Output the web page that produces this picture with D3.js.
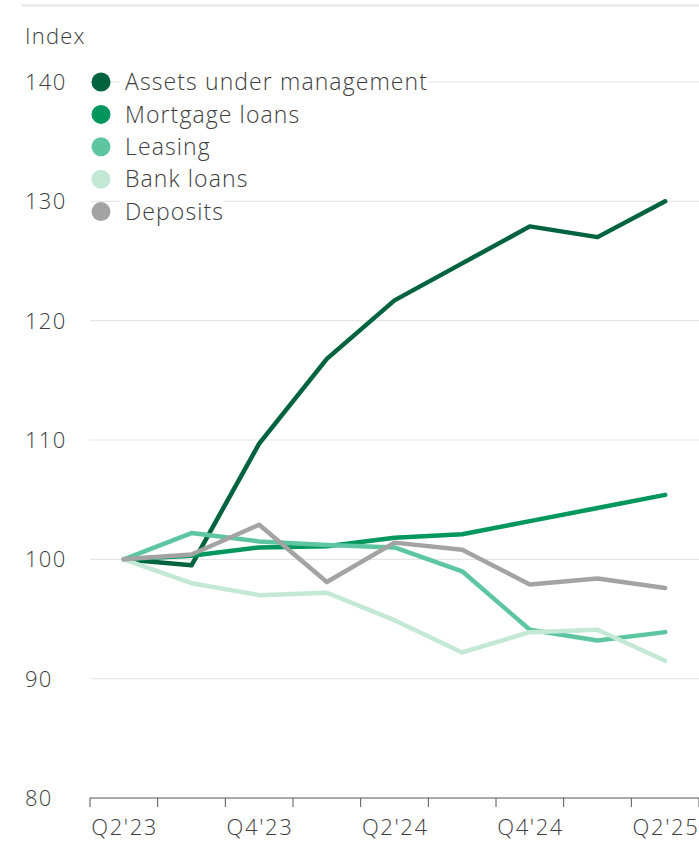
<!DOCTYPE html>
<html>
<head>
<meta charset="utf-8">
<script src="https://cdn.jsdelivr.net/npm/d3@7"></script>
<style>
  html, body { margin: 0; padding: 0; background: #fff; }
  svg { display: block; font-family: "Open Sans", Lato, sans-serif; }
  text { fill: #3d3d3d; font-weight: 300; }
</style>
</head>
<body>
<svg id="chart" width="699" height="842"></svg>
<script>
// Quarterly index values (Q2'23 = 100)
const quarters = ["Q2'23", "Q3'23", "Q4'23", "Q1'24", "Q2'24", "Q3'24", "Q4'24", "Q1'25", "Q2'25"];
const tickLabels = ["Q2'23", "Q4'23", "Q2'24", "Q4'24", "Q2'25"];
const yTicks = [80, 90, 100, 110, 120, 130, 140];

const assetsUnderManagement = [100, 99.5, 109.7, 116.8, 121.7, 124.8, 127.9, 127.0, 130.0];
const mortgageLoans        = [100, 100.3, 101.0, 101.1, 101.8, 102.1, 103.2, 104.3, 105.4];
const leasing              = [100, 102.2, 101.5, 101.2, 101.0, 99.0, 94.1, 93.2, 93.9];
const bankLoans            = [100, 98.0, 97.0, 97.2, 94.9, 92.2, 93.9, 94.1, 91.5];
const deposits             = [100, 100.4, 102.9, 98.1, 101.4, 100.8, 97.9, 98.4, 97.6];

const seriesNames  = ["Assets under management", "Mortgage loans", "Leasing", "Bank loans", "Deposits"];
const seriesValues = [assetsUnderManagement, mortgageLoans, leasing, bankLoans, deposits];
const seriesColors = ["#00633f", "#00975f", "#5dc6a1", "#c3e8d6", "#a3a3a3"];

const svg = d3.select("#chart");
const plotLeft = 90, plotRight = 699, plotTop = 82, plotBottom = 798;

const x = d3.scaleBand().domain(quarters).range([plotLeft, plotRight]);
const y = d3.scaleLinear().domain([80, 140]).range([plotBottom, plotTop]);

// top rule
svg.append("line")
  .attr("x1", 22).attr("x2", 699).attr("y1", 5.5).attr("y2", 5.5)
  .attr("stroke", "#ececec").attr("stroke-width", 3);

// unit label
svg.append("text").attr("x", 25).attr("y", 44)
  .attr("font-size", 22).attr("letter-spacing", 1.2)
  .text("Index");

// horizontal gridlines
svg.append("g").selectAll("line")
  .data(yTicks.filter(d => d !== 80))
  .join("line")
  .attr("x1", plotLeft).attr("x2", plotRight)
  .attr("y1", d => y(d)).attr("y2", d => y(d))
  .attr("stroke", "#e6e6e6").attr("stroke-width", 1.2);

// y tick labels
svg.append("g").selectAll("text")
  .data(yTicks)
  .join("text")
  .attr("x", 25).attr("y", d => y(d))
  .attr("dy", "0.36em")
  .attr("font-size", 22)
  .attr("letter-spacing", 1.3)
  .text(d => d);

// x axis with ticks on band boundaries
const xAxisG = svg.append("g").attr("transform", `translate(0,${plotBottom})`);
xAxisG.append("line")
  .attr("x1", plotLeft).attr("x2", plotRight)
  .attr("stroke", "#555").attr("stroke-width", 1);
const boundaries = quarters.map(q => x(q)).concat([plotRight]);
xAxisG.selectAll("line.tick")
  .data(boundaries)
  .join("line")
  .attr("class", "tick")
  .attr("x1", d => d).attr("x2", d => d)
  .attr("y1", 0).attr("y2", 9)
  .attr("stroke", "#555").attr("stroke-width", 1);
xAxisG.selectAll("text")
  .data(tickLabels)
  .join("text")
  .attr("x", d => x(d) + x.bandwidth() / 2 + 0.8)
  .attr("y", 37)
  .attr("text-anchor", "middle")
  .attr("font-size", 22)
  .attr("letter-spacing", 1.6)
  .text(d => d);

// series lines
const line = d3.line()
  .x((d, i) => x(quarters[i]) + x.bandwidth() / 2)
  .y(d => y(d));

svg.append("g").selectAll("path")
  .data(seriesValues)
  .join("path")
  .attr("d", d => line(d))
  .attr("fill", "none")
  .attr("stroke", (d, i) => seriesColors[i])
  .attr("stroke-width", 4.5)
  .attr("stroke-linejoin", "round")
  .attr("stroke-linecap", "round");

// legend
const legend = svg.append("g");
const rowY = i => 82 + i * 32.4;
const items = legend.selectAll("g")
  .data(seriesNames)
  .join("g")
  .attr("transform", (d, i) => `translate(0,${rowY(i)})`);
items.each(function(d, i) {
  const g = d3.select(this);
  const bg = g.append("rect").attr("fill", "#fff");
  const t = g.append("text")
    .attr("x", 125).attr("dy", "0.36em")
    .attr("font-size", 23)
    .attr("letter-spacing", 1.1)
    .text(d);
  const bb = t.node().getBBox();
  bg.attr("x", bb.x - 5).attr("y", bb.y + 2).attr("width", bb.width + 5).attr("height", bb.height - 4);
  g.append("circle")
    .attr("cx", 101).attr("cy", 0).attr("r", 9.5)
    .attr("fill", seriesColors[i]);
});
</script>
</body>
</html>
